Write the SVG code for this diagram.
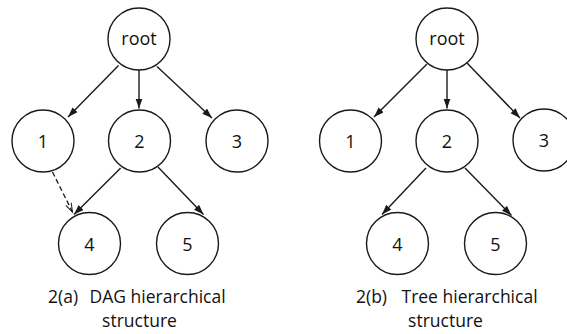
<svg xmlns="http://www.w3.org/2000/svg" width="567" height="334" viewBox="0 0 567 334">
<style>
.n circle{fill:#fff;stroke:#1a1a1a;stroke-width:1.4}
.n text{font-family:"Open Sans","Noto Sans",sans-serif;font-size:18px;fill:#111;text-anchor:middle}
.e{stroke:#1a1a1a;stroke-width:1.4;fill:none;marker-end:url(#ah)}
.d{stroke:#1a1a1a;stroke-width:1.3;fill:none;stroke-dasharray:5,3;marker-end:url(#oh)}
.lbl{font-family:"Open Sans","Noto Sans",sans-serif;font-size:17.5px;fill:#111}
</style>
<defs>
<marker id="ah" markerUnits="userSpaceOnUse" markerWidth="11" markerHeight="8" refX="10" refY="3.5" orient="auto">
<path d="M0,0 L10,3.5 L0,7 z" fill="#1a1a1a"/>
</marker>
<marker id="oh" markerUnits="userSpaceOnUse" markerWidth="11" markerHeight="8" refX="9" refY="3.5" orient="auto">
<path d="M0,0.5 L9,3.5 L0,6.5" fill="none" stroke="#1a1a1a" stroke-width="1"/>
</marker>
</defs>
<rect width="567" height="334" fill="#fff"/>
<g id="connectors">
<line class="e" x1="118.5" y1="65.5" x2="68" y2="117"/>
<line class="e" x1="139" y1="70" x2="139" y2="108.5"/>
<line class="e" x1="157" y1="66.5" x2="212" y2="118"/>
<line class="e" x1="120.7" y1="168" x2="74" y2="214.5"/>
<line class="e" x1="158" y1="167" x2="203.5" y2="214.5"/>
<line class="d" x1="52.5" y1="172" x2="72.5" y2="212"/>
<line class="e" x1="427" y1="64" x2="374" y2="117"/>
<line class="e" x1="447" y1="70" x2="447" y2="108.5"/>
<line class="e" x1="467" y1="63" x2="520" y2="118"/>
<line class="e" x1="426" y1="168" x2="382" y2="214.5"/>
<line class="e" x1="465" y1="168" x2="511.5" y2="215.5"/>
</g>
<g id="a-root" class="n"><circle cx="139" cy="39" r="31"/><text x="139" y="45">root</text></g>
<g id="a-1" class="n"><circle cx="43" cy="141" r="31"/><text x="43" y="148">1</text></g>
<g id="a-2" class="n"><circle cx="139.5" cy="141" r="31"/><text x="139.5" y="148">2</text></g>
<g id="a-3" class="n"><circle cx="237" cy="141" r="31"/><text x="237" y="148">3</text></g>
<g id="a-4" class="n"><circle cx="89.5" cy="243.5" r="31"/><text x="89.5" y="251">4</text></g>
<g id="a-5" class="n"><circle cx="187.5" cy="243.5" r="31"/><text x="187.5" y="251">5</text></g>
<g id="b-root" class="n"><circle cx="447" cy="39" r="31"/><text x="447" y="45">root</text></g>
<g id="b-1" class="n"><circle cx="350.5" cy="141" r="31"/><text x="350.5" y="148">1</text></g>
<g id="b-2" class="n"><circle cx="447" cy="141" r="31"/><text x="447" y="148">2</text></g>
<g id="b-3" class="n"><circle cx="544" cy="140" r="31"/><text x="544" y="147">3</text></g>
<g id="b-4" class="n"><circle cx="397.5" cy="243.5" r="31"/><text x="397.5" y="251">4</text></g>
<g id="b-5" class="n"><circle cx="495.5" cy="243.5" r="31"/><text x="495.5" y="251">5</text></g>
<g id="captions">
<text class="lbl" x="48" y="303">2(a)</text>
<text class="lbl" x="89.5" y="303">DAG hierarchical</text>
<text class="lbl" x="139.5" y="327" text-anchor="middle">structure</text>
<text class="lbl" x="356" y="303">2(b)</text>
<text class="lbl" x="401.5" y="303">Tree hierarchical</text>
<text class="lbl" x="445.5" y="327" text-anchor="middle">structure</text>
</g>
</svg>
